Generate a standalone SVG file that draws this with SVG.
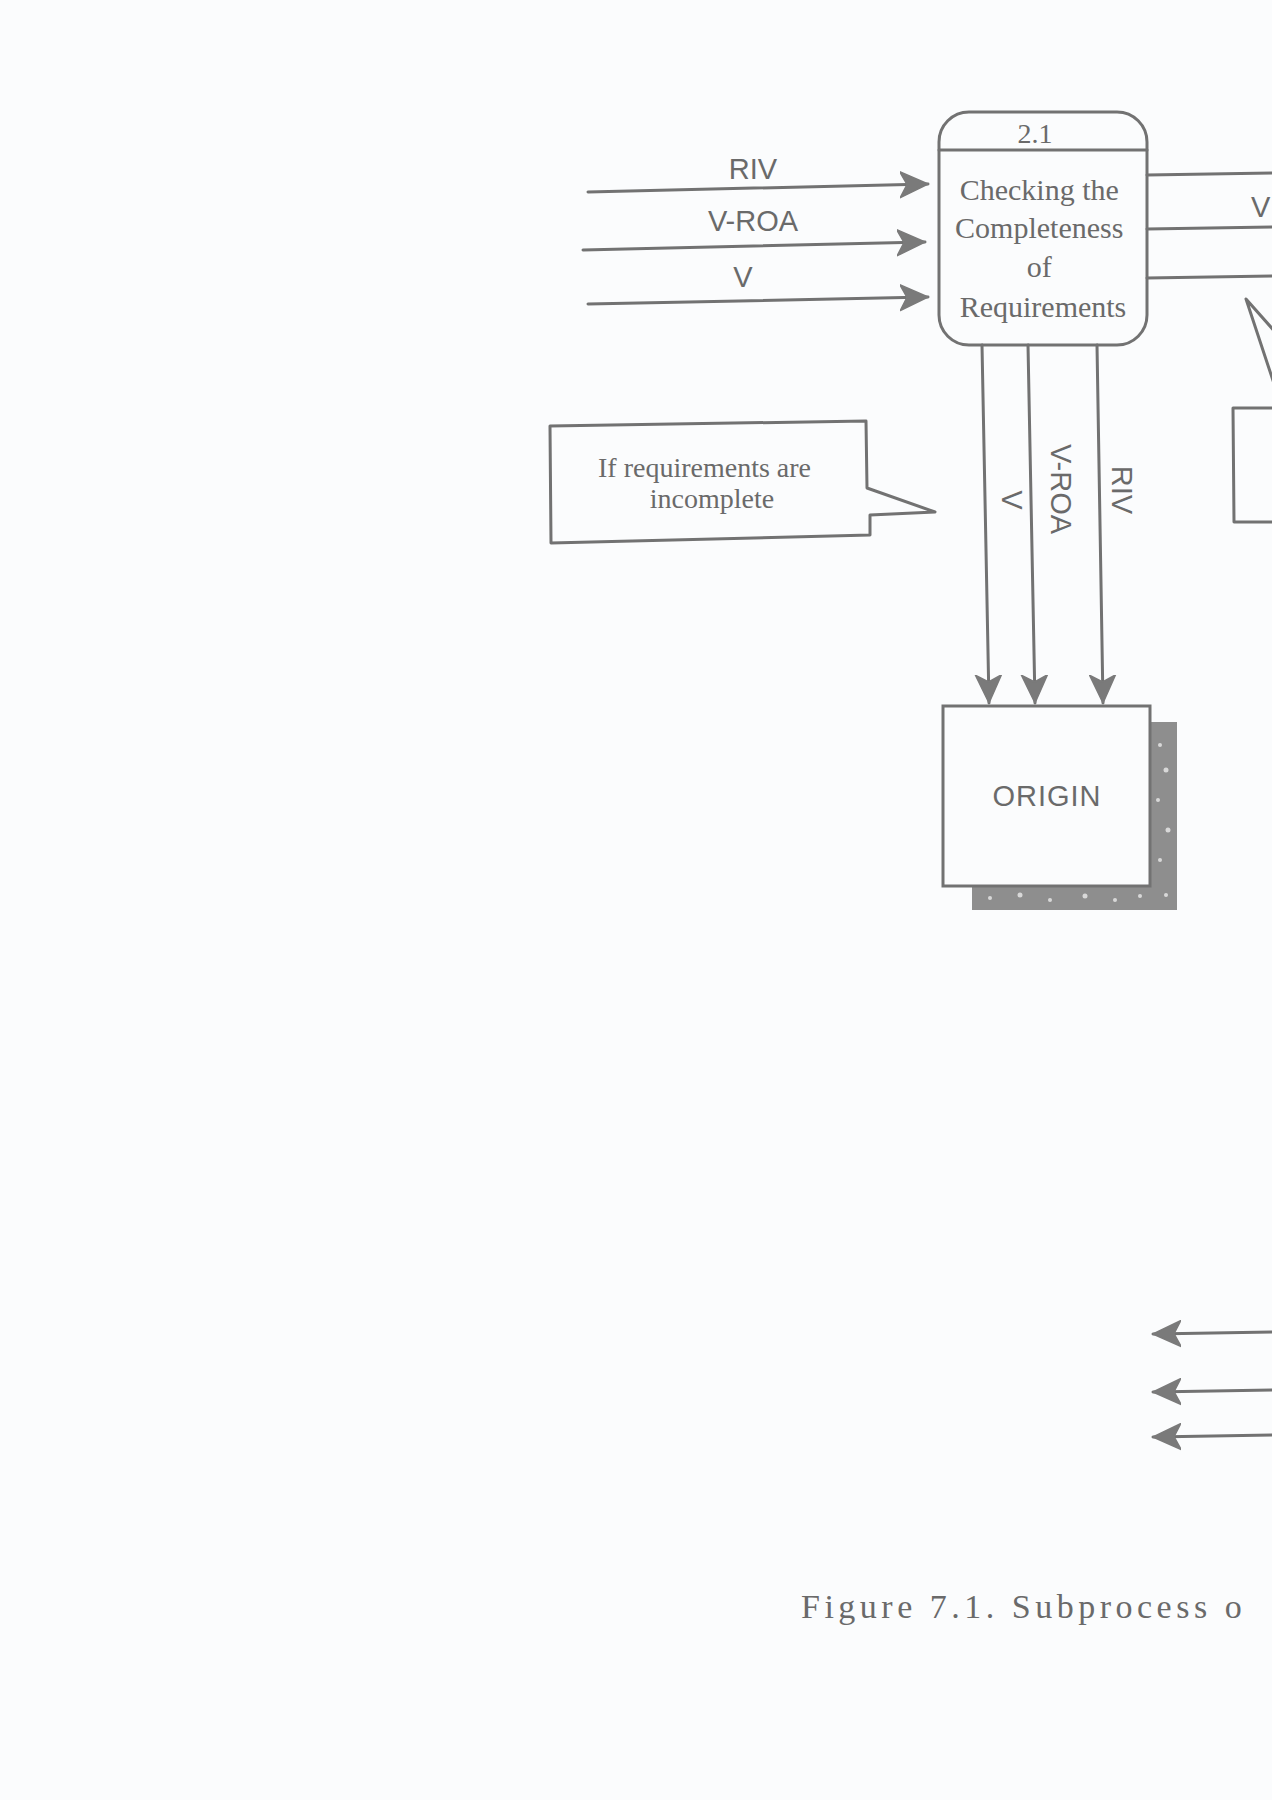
<svg xmlns="http://www.w3.org/2000/svg" width="1272" height="1800" viewBox="0 0 1272 1800">
<style>
.ln{fill:none;stroke:#727272;stroke-width:3;stroke-linecap:round;stroke-linejoin:round}
.box{fill:none;stroke:#727272;stroke-width:3;stroke-linejoin:round}
.lbl{font-family:"Liberation Sans",Arial,sans-serif;font-size:29px;fill:#6a6a6a}
.ser{font-family:"Liberation Serif","Times New Roman",serif;fill:#6a6a6a}
</style>
<defs>
<marker id="ah" markerUnits="userSpaceOnUse" markerWidth="30" markerHeight="28" refX="28" refY="14" orient="auto" viewBox="0 0 30 28">
<path d="M0,1 L28,14 L0,27 L7,14 Z" fill="#7a7a7a" stroke="#7a7a7a" stroke-width="1.5" stroke-linejoin="round"/>
</marker>
</defs>
<rect x="0" y="0" width="1272" height="1800" fill="#fbfcfd"/>

<g id="connectors">
<!-- inputs to 2.1 -->
<line class="ln" x1="588" y1="192" x2="928" y2="184" marker-end="url(#ah)"/>
<line class="ln" x1="583" y1="250" x2="925" y2="242" marker-end="url(#ah)"/>
<line class="ln" x1="588" y1="304" x2="928" y2="297" marker-end="url(#ah)"/>
<!-- outputs to right -->
<line class="ln" x1="1147" y1="175" x2="1275" y2="173"/>
<line class="ln" x1="1147" y1="229" x2="1275" y2="227"/>
<line class="ln" x1="1147" y1="278" x2="1275" y2="276"/>
<!-- down to ORIGIN -->
<line class="ln" x1="982" y1="345" x2="989" y2="703" marker-end="url(#ah)"/>
<line class="ln" x1="1028" y1="345" x2="1035" y2="703" marker-end="url(#ah)"/>
<line class="ln" x1="1097" y1="345" x2="1103" y2="703" marker-end="url(#ah)"/>
<!-- bottom left-pointing arrows -->
<line class="ln" x1="1275" y1="1332" x2="1153" y2="1334" marker-end="url(#ah)"/>
<line class="ln" x1="1275" y1="1390" x2="1153" y2="1392" marker-end="url(#ah)"/>
<line class="ln" x1="1275" y1="1435" x2="1153" y2="1437" marker-end="url(#ah)"/>
<!-- labels -->
<text class="lbl" x="753" y="179" text-anchor="middle">RIV</text>
<text class="lbl" x="753" y="231" text-anchor="middle">V-ROA</text>
<text class="lbl" x="743" y="287" text-anchor="middle">V</text>
<text class="lbl" x="1251" y="217">V</text>
<text class="lbl" text-anchor="middle" dominant-baseline="central" transform="translate(1012,500) rotate(90)">V</text>
<text class="lbl" text-anchor="middle" dominant-baseline="central" transform="translate(1061,489) rotate(90)">V-ROA</text>
<text class="lbl" text-anchor="middle" dominant-baseline="central" transform="translate(1122,490) rotate(90)">RIV</text>
</g>

<g id="process-2-1">
<rect class="box" x="939" y="112" width="208" height="233" rx="30" ry="30"/>
<line class="ln" x1="939" y1="150" x2="1147" y2="150"/>
<text class="ser" x="1035" y="143" font-size="28" text-anchor="middle">2.1</text>
<text class="ser" font-size="30" text-anchor="middle">
<tspan x="1043" y="200">Checking the</tspan>
<tspan x="1043" y="238">Completeness</tspan>
<tspan x="1043" y="277">of</tspan>
<tspan x="1043" y="317">Requirements</tspan>
</text>
</g>

<g id="callout-incomplete">
<path class="box" d="M550,426 L866,421 L867,488 L935,512 L870,515 L870,535 L551,543 Z"/>
<text class="ser" font-size="28" text-anchor="middle">
<tspan x="708" y="477">If requirements are</tspan>
<tspan x="712" y="508">incomplete</tspan>
</text>
</g>

<g id="callout-right">
<path class="ln" d="M1290,408 L1233,408 L1234,522 L1290,522"/>
<path class="ln" d="M1290,432 L1246,299 L1300,360"/>
</g>

<g id="origin">
<path d="M1150,722 L1177,722 L1177,910 L972,910 L972,886 L1150,886 Z" fill="#8e8e8e"/>
<g fill="#d8d8d8">
<circle cx="1160" cy="745" r="2"/><circle cx="1166" cy="770" r="2.5"/><circle cx="1158" cy="800" r="2"/>
<circle cx="1168" cy="830" r="2.5"/><circle cx="1160" cy="860" r="2"/><circle cx="1166" cy="895" r="2"/>
<circle cx="990" cy="898" r="2"/><circle cx="1020" cy="895" r="2.5"/><circle cx="1050" cy="900" r="2"/>
<circle cx="1085" cy="896" r="2.5"/><circle cx="1115" cy="900" r="2"/><circle cx="1140" cy="896" r="2"/>
</g>
<rect x="943" y="706" width="207" height="180" fill="#fbfcfd" stroke="#727272" stroke-width="3"/>
<text class="lbl" x="1047" y="806" text-anchor="middle" font-size="30" letter-spacing="1">ORIGIN</text>
</g>

<g id="caption">
<text class="ser" x="801" y="1618" font-size="34" letter-spacing="4.5">Figure 7.1. Subprocess o</text>
</g>
</svg>
